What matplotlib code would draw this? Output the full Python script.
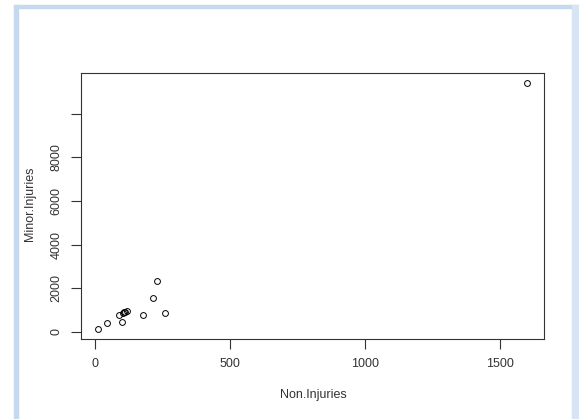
import matplotlib
matplotlib.use("Agg")
import matplotlib.pyplot as plt
from matplotlib.patches import Rectangle

plt.rcParams.update({"font.family": ["Liberation Sans", "DejaVu Sans"]})

# values
non_injuries = [10, 46, 101, 89, 104, 107, 112, 120, 179, 214, 231, 258, 1600]
minor_injuries = [120, 396, 461, 783, 876, 903, 920, 935, 765, 1535, 2332, 857, 11396]

x_ticks = [0, 500, 1000, 1500]
y_ticks = [0, 2000, 4000, 6000, 8000, 10000]
y_tick_labels = ["0", "2000", "4000", "6000", "8000", ""]

W, H = 579, 419
fig = plt.figure(figsize=(W / 100, H / 100), dpi=100)

# light blue frame of the screenshot
blue = "#c6d9ee"
fig.patches.append(Rectangle((14 / W, 0), 4 / W, (H - 5) / H, transform=fig.transFigure,
                             color=blue, zorder=0))
fig.patches.append(Rectangle((14 / W, (H - 8) / H), (W - 14) / W, 3 / H,
                             transform=fig.transFigure, color=blue, zorder=0))
fig.patches.append(Rectangle((572 / W, 0), 7 / W, (H - 5) / H, transform=fig.transFigure,
                             color="#d6e4f3", zorder=0))

ax = fig.add_axes([80.5 / W, (H - 339) / H, 463.8 / W, 265.7 / H])
ax.plot(non_injuries, minor_injuries, "o", mfc="none", mec="black", ms=4.2, mew=0.7)

# R-style 4% padding around the data range
xmin, xmax = min(non_injuries), max(non_injuries)
ymin, ymax = min(minor_injuries), max(minor_injuries)
ax.set_xlim(xmin - 0.04 * (xmax - xmin), xmax + 0.04 * (xmax - xmin))
ax.set_ylim(ymin - 0.04 * (ymax - ymin), ymax + 0.04 * (ymax - ymin))

ax.set_xticks(x_ticks)
ax.set_yticks(y_ticks)
ax.set_yticklabels(y_tick_labels, rotation=90, va="center")
ax.tick_params(length=7, width=0.8, color="#333333", labelsize=9, labelcolor="#333333")
ax.tick_params(axis="x", pad=7)
ax.tick_params(axis="y", pad=6)
for s in ax.spines.values():
    s.set_linewidth(0.8)
    s.set_color("#333333")

fig.text(313 / W, 1 - 395 / H, "Non.Injuries", ha="center", va="center",
         fontsize=9, color="#333333")
fig.text(30 / W, 1 - 204 / H, "Minor.Injuries", ha="center", va="center",
         rotation=90, fontsize=9, color="#333333")

fig.savefig("out.png", dpi=100)
